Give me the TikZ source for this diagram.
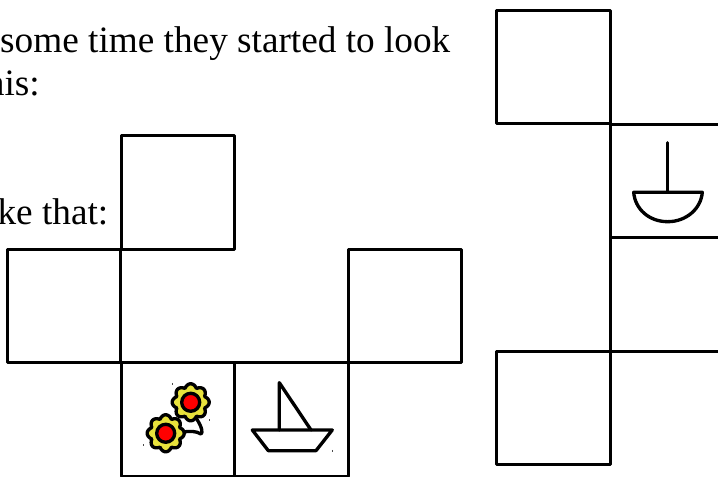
\documentclass[tikz,border=0pt]{standalone}
\usepackage{fontspec}
\setmainfont{Liberation Serif}
\definecolor{petal}{HTML}{E8E23C}
\tikzset{
  cell/.style={draw, rectangle, line width=0.95pt, line join=round, minimum width=1.135cm, minimum height=1.135cm, inner sep=0pt},
  words/.style={inner sep=0pt, font=\fontsize{10.6}{12}\selectfont},
  icon/.style={line width=0.95pt, line join=round, line cap=round},
  speck/.style={line width=0.25pt, black!70},
  flower/.pic={
    \draw[icon, fill=petal] plot[domain=0:360, samples=145] (\x:{0.15+0.035*abs(cos(4*\x))}) -- cycle;
    \draw[icon, fill=red] (0,0) circle (0.09);
  }
}
\begin{document}
\begin{tikzpicture}[x=1cm,y=1cm]
\clip (0,0) rectangle (7.18,4.77);
\fill[white] (0,0) rectangle (7.18,4.77);

% text
\node[words, anchor=base east] (line1) at (4.51,4.24) {some time they started to look};
\node[words, anchor=base east] (line2) at (0.405,3.81) {this:};
\node[words, anchor=base east] (line3) at (1.09,2.52) {like that:};

% left group
\node[cell] (top) at (1.78,2.845) {};
\node[cell] (left) at (0.64,1.71) {};
\node[cell] (right) at (4.05,1.71) {};
\node[cell] (flowers) at (1.78,0.575) {};
\node[cell] (boat) at (2.915,0.575) {};

% right group
\node[cell] (rtop) at (5.535,4.10) {};
\node[cell] (rbowl) at (6.67,2.96) {};
\node[cell] (rempty) at (6.67,1.825) {};
\node[cell] (rbottom) at (5.535,0.69) {};

% flowers
\draw[icon] (1.967,0.58) .. controls (2.02,0.50) and (2.03,0.44) .. (2.01,0.43) .. controls (1.96,0.46) and (1.90,0.46) .. (1.83,0.45);
\pic at (1.907,0.747) {flower};
\pic at (1.657,0.437) {flower};

% sail boat
\draw[icon] (2.793,0.47) -- (2.793,0.943) -- (3.11,0.47);
\draw[icon] (2.523,0.47) -- (3.323,0.47) -- (3.16,0.263) -- (2.683,0.263) -- cycle;

% half boat
\draw[icon] (6.677,3.343) -- (6.677,2.847);
\draw[icon] (6.337,2.847) -- (7.023,2.847) .. controls (7.01,2.68) and (6.86,2.553) .. (6.677,2.553) .. controls (6.49,2.553) and (6.35,2.68) .. (6.337,2.847) -- cycle;

% specks
\draw[speck] (1.727,0.94) -- (1.727,0.92);
\draw[speck] (2.09,0.575) -- (2.09,0.555);
\draw[speck] (1.433,0.325) -- (1.433,0.305);
\draw[speck] (3.32,0.27) -- (3.32,0.25);
\end{tikzpicture}
\end{document}
